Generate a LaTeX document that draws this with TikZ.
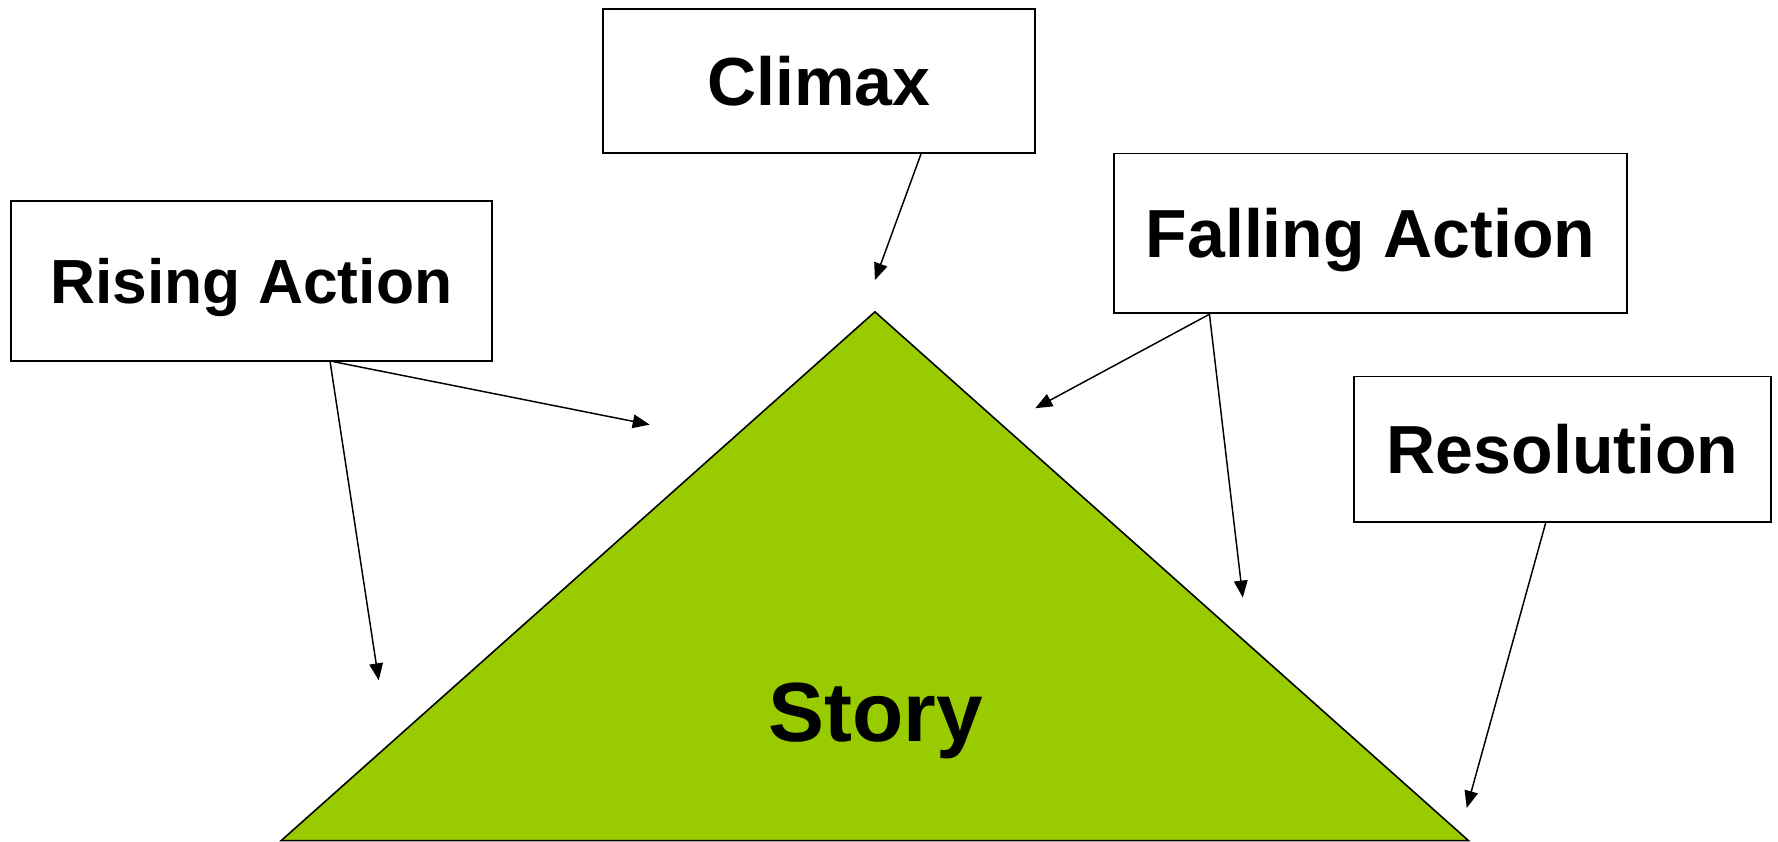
\documentclass[tikz,border=0pt]{standalone}
\usepackage{fontspec}
\setmainfont{Liberation Sans}
\usetikzlibrary{arrows.meta}
\definecolor{storygreen}{HTML}{99CC00}
\begin{document}
\begin{tikzpicture}[x=1pt,y=-1pt,
  labelbox/.style={draw=black, line width=1.6pt, fill=white, inner sep=0pt,
    text height=43pt, text depth=0pt, font=\fontsize{60}{72}\selectfont\bfseries},
  conn/.style={line width=1.3pt, -{Triangle[length=15pt,width=12pt]}}]
\useasboundingbox (0,0) rectangle (1568,742.5);
\fill[white] (0,0) rectangle (1568,742.5);
% triangle
\draw[fill=storygreen, line width=1.4pt, line join=miter] (771.6,275) -- (1295,741.3) -- (248,741.3) -- cycle;
\node[inner sep=0pt, text height=53pt, text depth=0pt, font=\fontsize{74}{88}\selectfont\bfseries] (story) at (772.5,627) {Story};
% boxes
\node[labelbox, minimum width=381pt, minimum height=127pt] (climax) at (722,71.5) {Climax};
\node[labelbox, minimum width=424pt, minimum height=141pt, text height=39.4pt, font=\fontsize{55}{66}\selectfont\bfseries] (rising) at (221.6,247.7) {Rising Action};
\node[labelbox, minimum width=452.6pt, minimum height=141pt] (falling) at (1208.7,205.8) {Falling Action};
\node[labelbox, minimum width=367.4pt, minimum height=128pt] (resolution) at (1378,396) {Resolution};
% arrow ends
\coordinate (climaxTip) at (771.6,247);
\coordinate (risingTipA) at (334,600);
\coordinate (risingTipB) at (573,374.5);
\coordinate (fallingTipA) at (913,360);
\coordinate (fallingTipB) at (1096,527);
\coordinate (resolutionTip) at (1293.5,712.5);
% connectors
\draw[conn] ([xshift=281.5pt]climax.south west) -- (climaxTip);
\draw[conn] ([xshift=282.3pt]rising.south west) -- (risingTipA);
\draw[conn] ([xshift=285.5pt]rising.south west) -- (risingTipB);
\draw[conn] ([xshift=85pt]falling.south west) -- (fallingTipA);
\draw[conn] ([xshift=85pt]falling.south west) -- (fallingTipB);
\draw[conn] ([xshift=169.7pt]resolution.south west) -- (resolutionTip);
\end{tikzpicture}
\end{document}
